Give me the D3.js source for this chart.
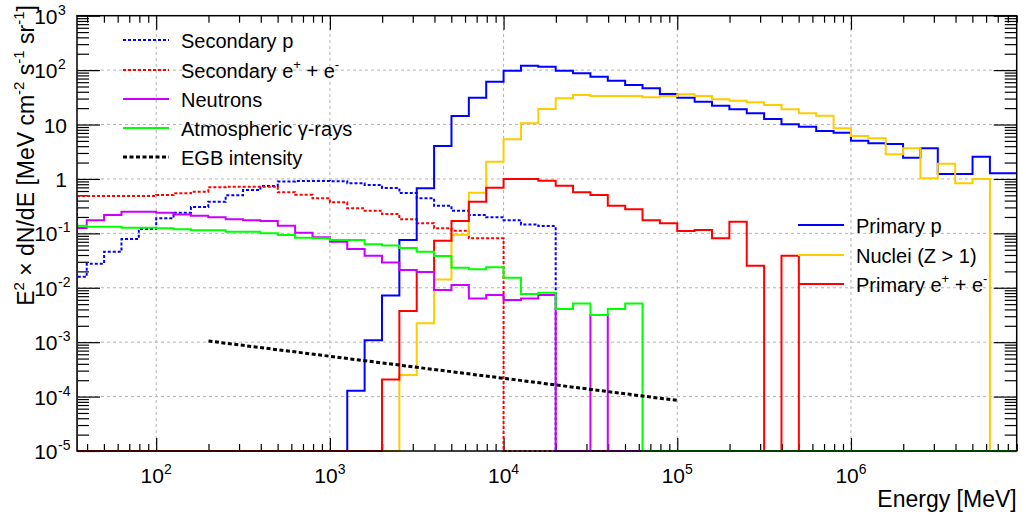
<!DOCTYPE html>
<html>
<head>
<meta charset="utf-8">
<script src="https://cdn.jsdelivr.net/npm/d3@7"></script>
<style>
  body { margin: 0; background: #fff; }
  svg { font-family: "Liberation Sans", Arial, sans-serif; }
</style>
</head>
<body>
<svg id="chart" width="1026" height="518"></svg>
<script>
// Energy bins: lower edges in log10(E / MeV), 0.1 dex wide
const binLogLo = [1.5, 1.6, 1.7, 1.8, 1.9, 2.0, 2.1, 2.2, 2.3, 2.4,
                  2.5, 2.6, 2.7, 2.8, 2.9, 3.0, 3.1, 3.2, 3.3, 3.4,
                  3.5, 3.6, 3.7, 3.8, 3.9, 4.0, 4.1, 4.2, 4.3, 4.4,
                  4.5, 4.6, 4.7, 4.8, 4.9, 5.0, 5.1, 5.2, 5.3, 5.4,
                  5.5, 5.6, 5.7, 5.8, 5.9, 6.0, 6.1, 6.2, 6.3, 6.4,
                  6.5, 6.6, 6.7, 6.8, 6.9];
const binWidthDex = 0.1;

// E^2 dN/dE per bin [MeV cm^-2 s^-1 sr^-1], 0 = empty bin
const secondaryP = [0.0159, 0.0276, 0.0459, 0.0786, 0.12, 0.189, 0.239, 0.304, 0.381, 0.5,
                    0.625, 0.741, 0.9, 0.92, 0.92, 0.91, 0.83, 0.77, 0.68, 0.55,
                    0.44, 0.32, 0.26, 0.217, 0.197, 0.175, 0.146, 0.136, 0, 0,
                    0, 0, 0, 0, 0, 0, 0, 0, 0, 0,
                    0, 0, 0, 0, 0, 0, 0, 0, 0, 0,
                    0, 0, 0, 0, 0];
const secondaryE = [0.485, 0.485, 0.485, 0.485, 0.485, 0.506, 0.543, 0.582, 0.701, 0.719,
                    0.719, 0.719, 0.57, 0.51, 0.44, 0.372, 0.288, 0.26, 0.226, 0.181,
                    0.153, 0.124, 0.112, 0.081, 0.081, 0, 0, 0, 0, 0,
                    0, 0, 0, 0, 0, 0, 0, 0, 0, 0,
                    0, 0, 0, 0, 0, 0, 0, 0, 0, 0,
                    0, 0, 0, 0, 0];
const neutrons = [0.125, 0.175, 0.217, 0.25, 0.25, 0.239, 0.223, 0.211, 0.197, 0.181,
                  0.175, 0.168, 0.138, 0.1026, 0.0844, 0.070, 0.0514, 0.0387, 0.029, 0.0211,
                  0.0194, 0.0091, 0.0112, 0.00638, 0.00734, 0.00594, 0.00638, 0.00734, 0, 0,
                  0.00315, 0, 0, 0, 0, 0, 0, 0, 0, 0,
                  0, 0, 0, 0, 0, 0, 0, 0, 0, 0,
                  0, 0, 0, 0, 0];
const atmGamma = [0.138, 0.132, 0.132, 0.127, 0.127, 0.124, 0.119, 0.1136, 0.1136, 0.107,
                  0.107, 0.1, 0.0935, 0.083, 0.081, 0.0753, 0.0753, 0.0628, 0.0597, 0.054,
                  0.0459, 0.0383, 0.0233, 0.0218, 0.0237, 0.0153, 0.00766, 0.0081, 0.00406, 0.00516,
                  0.00315, 0.00406, 0.00516, 0, 0, 0, 0, 0, 0, 0,
                  0, 0, 0, 0, 0, 0, 0, 0, 0, 0,
                  0, 0, 0, 0, 0];
const primaryP = [0, 0, 0, 0, 0, 0, 0, 0, 0, 0,
                  0, 0, 0, 0, 0, 0, 1.28e-4, 1.09e-3, 0.0072, 0.0753,
                  0.671, 4.03, 14.3, 31.1, 61.2, 97.5, 120.5, 115.6, 97.5, 87.3,
                  75.6, 63.9, 53.2, 46.3, 36.4, 31.1, 26.2, 22.2, 19.0, 16.1,
                  12.6, 10.1, 9.12, 7.6, 7.07, 5.04, 4.51, 4.38, 2.45, 3.65,
                  1.23, 1.23, 2.56, 1.27, 1.27];
const nuclei = [0, 0, 0, 0, 0, 0, 0, 0, 0, 0,
                0, 0, 0, 0, 0, 0, 0, 0, 0, 2.48e-4,
                2.22e-3, 0.01426, 0.0942, 0.557, 2.07, 5.35, 10.5, 19.3, 30.3, 34.9,
                33.4, 33.4, 33.4, 31.6, 33.4, 35.9, 33.4, 29.0, 27.4, 25.6,
                22.8, 19.0, 16.1, 14.5, 8.51, 6.15, 5.57, 2.83, 3.65, 1.03,
                1.9, 0.83, 1.0, 0, 0];
const primaryE = [0, 0, 0, 0, 0, 0, 0, 0, 0, 0,
                  0, 0, 0, 0, 0, 0, 0, 0, 2.05e-4, 3.76e-3,
                  0.0194, 0.0731, 0.168, 0.381, 0.689, 0.995, 0.995, 0.927, 0.75, 0.567,
                  0.506, 0.321, 0.276, 0.175, 0.153, 0.110, 0.115, 0.081, 0.163, 0.0254,
                  0, 0.0387, 0, 0, 0, 0, 0, 0, 0, 0,
                  0, 0, 0, 0, 0];

// extragalactic gamma-ray background
const egbEnergy = [200, 1e3, 1e4, 1e5];
const egbValue = [1.05e-3, 5.5e-4, 2.17e-4, 8.5e-5];

// axis tick labels
const xTickExp = [2, 3, 4, 5, 6];
const yTickExp = [-5, -4, -3, -2, -1, 0, 1, 2, 3];

const W = 1026, H = 518;
const margin = { top: 15.7, right: 9.3, bottom: 67, left: 77 };
const xMin = 35, xMax = 9e6, yMin = 1e-5, yMax = 1e3;

const svg = d3.select("#chart");
const x = d3.scaleLog().domain([xMin, xMax]).range([margin.left, W - margin.right]);
const y = d3.scaleLog().domain([yMin, yMax]).range([H - margin.bottom, margin.top]);
const x0 = margin.left, x1 = W - margin.right, y0 = H - margin.bottom, y1 = margin.top;

// grid
const grid = svg.append("g").attr("stroke", "#b4b4b4").attr("stroke-dasharray", "3,3").attr("stroke-width", 1);
xTickExp.forEach(e => {
  grid.append("line").attr("x1", x(10 ** e)).attr("x2", x(10 ** e)).attr("y1", y0).attr("y2", y1);
});
yTickExp.filter(e => e > -5 && e < 3).forEach(e => {
  grid.append("line").attr("x1", x0).attr("x2", x1).attr("y1", y(10 ** e)).attr("y2", y(10 ** e));
});

// minor / major tick positions
function logTicks(lo, hi) {
  const major = [], minor = [];
  for (let e = Math.floor(Math.log10(lo)); e <= Math.ceil(Math.log10(hi)); e++) {
    for (let k = 1; k <= 9; k++) {
      const v = k * 10 ** e;
      if (v < lo * 0.999 || v > hi * 1.001) continue;
      (k === 1 ? major : minor).push(v);
    }
  }
  return { major, minor };
}
const xt = logTicks(xMin, xMax), yt = logTicks(yMin, yMax);

function addAxis(axisFn, scale, values, size, transform) {
  svg.append("g").attr("transform", transform)
    .call(axisFn(scale).tickValues(values).tickSize(size).tickFormat("").tickSizeOuter(0))
    .call(g => g.select(".domain").remove())
    .call(g => g.selectAll("line").attr("stroke", "#000").attr("stroke-width", 1.2));
}
addAxis(d3.axisTop, x, xt.major, 13, `translate(0,${y0})`);
addAxis(d3.axisTop, x, xt.minor, 7, `translate(0,${y0})`);
addAxis(d3.axisBottom, x, xt.major, 14, `translate(0,${y1})`);
addAxis(d3.axisBottom, x, xt.minor, 7, `translate(0,${y1})`);
addAxis(d3.axisRight, y, yt.major, 23, `translate(${x0},0)`);
addAxis(d3.axisRight, y, yt.minor, 12, `translate(${x0},0)`);
addAxis(d3.axisLeft, y, yt.major, 23, `translate(${x1},0)`);
addAxis(d3.axisLeft, y, yt.minor, 12, `translate(${x1},0)`);

// clip for the histograms
svg.append("clipPath").attr("id", "plotclip").append("rect")
  .attr("x", x0).attr("y", 0).attr("width", x1 - x0).attr("height", y0 + 2);

const plot = svg.append("g").attr("clip-path", "url(#plotclip)");
const line = d3.line();

function histPoints(values) {
  const pts = [];
  values.forEach((v, i) => {
    const lo = Math.max(10 ** binLogLo[i], xMin);
    const hi = 10 ** (binLogLo[i] + binWidthDex);
    const yy = v > 0 ? y(v) : y0;
    if (i === 0) pts.push([x(lo), y0]);
    pts.push([x(lo), yy], [x(hi), yy]);
  });
  const last = binLogLo[binLogLo.length - 1] + binWidthDex;
  pts.push([x(10 ** last), y0]);
  return pts;
}

const series = [
  { name: "Secondary p", data: secondaryP, color: "#0000ff", dash: "3,2" },
  { name: "Secondary e", data: secondaryE, color: "#ff0000", dash: "3,2" },
  { name: "Primary p", data: primaryP, color: "#0000ff", dash: null },
  { name: "Nuclei", data: nuclei, color: "#ffcc00", dash: null },
  { name: "Primary e", data: primaryE, color: "#ff0000", dash: null },
  { name: "Neutrons", data: neutrons, color: "#cc00ff", dash: null },
  { name: "Atm gamma", data: atmGamma, color: "#00ff00", dash: null }
];
series.forEach(s => {
  plot.append("path")
    .attr("d", line(histPoints(s.data)))
    .attr("fill", "none")
    .attr("stroke", s.color)
    .attr("stroke-width", 2)
    .attr("stroke-dasharray", s.dash)
    .attr("stroke-linejoin", "miter");
});

// EGB intensity
plot.append("path")
  .attr("d", line(egbEnergy.map((e, i) => [x(e), y(egbValue[i])])))
  .attr("fill", "none")
  .attr("stroke", "#000")
  .attr("stroke-width", 3)
  .attr("stroke-dasharray", "4,2.5");

// frame
svg.append("rect").attr("x", x0).attr("y", y1).attr("width", x1 - x0).attr("height", y0 - y1)
  .attr("fill", "none").attr("stroke", "#000").attr("stroke-width", 1.5);

// tick labels
xTickExp.forEach(e => {
  const t = svg.append("text").attr("x", x(10 ** e)).attr("y", 483)
    .attr("text-anchor", "middle").attr("font-size", 21);
  t.append("tspan").text("10");
  t.append("tspan").attr("dy", -9).attr("font-size", 14).text(e);
});
yTickExp.forEach(e => {
  const yy = y(10 ** e) + 8;
  if (e === 0 || e === 1) {
    svg.append("text").attr("x", 67).attr("y", yy).attr("text-anchor", "end")
      .attr("font-size", 21).text(e === 0 ? "1" : "10");
    return;
  }
  svg.append("text").attr("x", 57.5).attr("y", yy).attr("text-anchor", "end")
    .attr("font-size", 21).text("10");
  svg.append("text").attr("x", 58).attr("y", yy - 9).attr("font-size", 14).text(e);
});

// axis titles
svg.append("text").attr("x", x1).attr("y", 507).attr("text-anchor", "end")
  .attr("font-size", 23).text("Energy [MeV]");

const yTitle = svg.append("text")
  .attr("transform", "translate(34,5) rotate(-90)")
  .attr("text-anchor", "end").attr("font-size", 23);
[["E", 0], ["2", -1], [" \u00d7 dN/dE [MeV cm", 1], ["-2", -1], [" s", 1], ["-1", -1],
 [" sr", 1], ["-1", -1], ["]", 1]].forEach(([txt, mode]) => {
  const ts = yTitle.append("tspan").text(txt);
  if (mode === -1) ts.attr("dy", -10).attr("font-size", 15);
  if (mode === 1) ts.attr("dy", 10);
});

// legends
function legendRow(lx, ly, color, dash, width, parts) {
  svg.append("line").attr("x1", lx).attr("x2", lx + 46).attr("y1", ly).attr("y2", ly)
    .attr("stroke", color).attr("stroke-width", width).attr("stroke-dasharray", dash);
  const t = svg.append("text").attr("x", lx + 58).attr("y", ly + 8).attr("font-size", 20);
  parts.forEach(([txt, sup]) => {
    const ts = t.append("tspan").text(txt);
    if (sup === -1) ts.attr("dy", -9).attr("font-size", 13);
    if (sup === 1) ts.attr("dy", 9);
  });
}
legendRow(123, 40, "#0000ff", "3,2", 2, [["Secondary p", 0]]);
legendRow(123, 70, "#ff0000", "3,2", 2, [["Secondary e", 0], ["+", -1], [" + e", 1], ["-", -1]]);
legendRow(123, 99, "#cc00ff", null, 2, [["Neutrons", 0]]);
legendRow(123, 128, "#00ff00", null, 2, [["Atmospheric \u03b3-rays", 0]]);
legendRow(123, 157, "#000", "4,2.5", 3, [["EGB intensity", 0]]);

legendRow(798, 225, "#0000ff", null, 2, [["Primary p", 0]]);
legendRow(798, 255, "#ffcc00", null, 2, [["Nuclei (Z > 1)", 0]]);
legendRow(798, 284, "#ff0000", null, 2, [["Primary e", 0], ["+", -1], [" + e", 1], ["-", -1]]);
</script>
</body>
</html>
